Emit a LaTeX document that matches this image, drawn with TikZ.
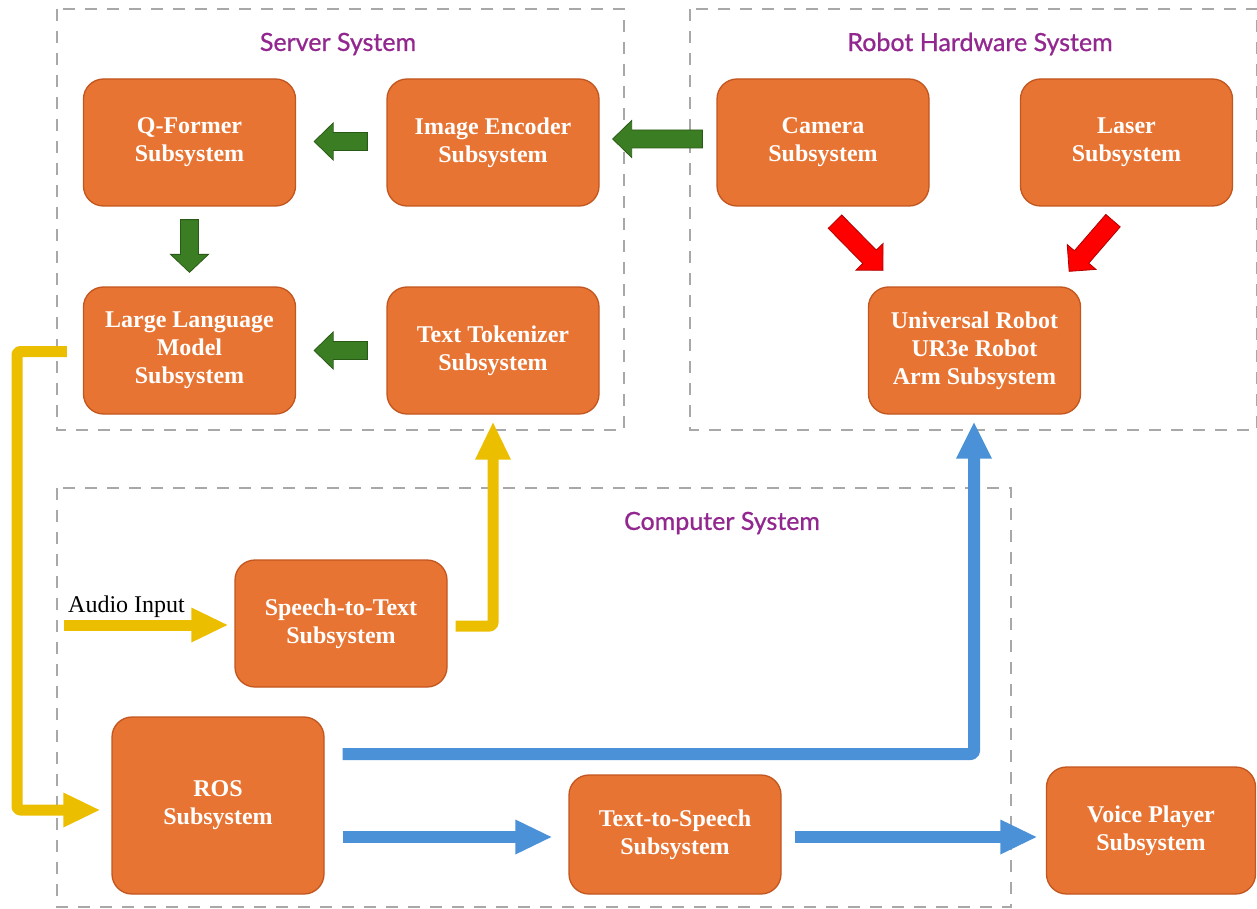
\documentclass[tikz,border=0pt]{standalone}
\usepackage{fontspec}
\setmainfont{Liberation Serif}
\newfontfamily\titlefont{Lato}[FakeBold=0.8]
\usetikzlibrary{calc}

\definecolor{boxfill}{HTML}{E87433}
\definecolor{boxedge}{HTML}{C2561F}
\definecolor{gfill}{HTML}{3B7D23}
\definecolor{gedge}{HTML}{2A5A18}
\definecolor{rfill}{HTML}{FF0000}
\definecolor{redge}{HTML}{B00000}
\definecolor{yflow}{HTML}{EBBF00}
\definecolor{bflow}{HTML}{4A91D8}
\definecolor{titlecol}{HTML}{92278F}
\definecolor{dashgray}{HTML}{A8A8A8}

% straight block arrow: style, start, tip, half shaft width, half head width, head length
\newcommand{\blockarrow}[6]{%
  \coordinate (ba-p) at ($(#3)!#6!(#2)$);
  \filldraw[#1] ($(#2)!#4!90:(#3)$) -- ($(ba-p)!#4!90:(#3)$) -- ($(ba-p)!#5!90:(#3)$)
    -- (#3) -- ($(ba-p)!#5!-90:(#3)$) -- ($(ba-p)!#4!-90:(#3)$) -- ($(#2)!#4!-90:(#3)$) -- cycle;
}
% triangular head only: style, point behind, tip, half head width, head length
\newcommand{\flowhead}[5]{%
  \coordinate (fh-p) at ($(#3)!#5!(#2)$);
  \fill[#1] ($(fh-p)!#4!90:(#3)$) -- (#3) -- ($(fh-p)!#4!-90:(#3)$) -- cycle;
}

\begin{document}
\begin{tikzpicture}[x=1pt,y=-1pt,
  sub/.style={rectangle, rounded corners=20pt, fill=boxfill, draw=boxedge, line width=1.3pt,
    text=white, font=\bfseries\fontsize{24}{28}\selectfont, align=center,
    minimum width=212pt, minimum height=127pt, inner sep=0pt},
  group/.style={draw=dashgray, line width=2.5pt, dash pattern=on 12pt off 10pt},
  grouptitle/.style={text=titlecol, font=\titlefont\fontsize{25}{30}\selectfont},
  garrow/.style={fill=gfill, draw=gedge, line width=0.8pt},
  rarrow/.style={fill=rfill, draw=redge, line width=0.8pt},
  yshaft/.style={draw=yflow, line width=11pt, line join=round, rounded corners=3pt},
  bshaft/.style={draw=bflow, line width=12pt, line join=round, rounded corners=3pt},
]
\useasboundingbox (0,0) rectangle (1257,909);

% system groups
\draw[group] (57,9) rectangle (624,430);
\draw[group] (690,9) rectangle (1257,430);
\draw[group] (57,488) rectangle (1011,907);
\node[grouptitle] (tserver) at (338,44) {Server System};
\node[grouptitle] (trobot) at (980,44) {Robot Hardware System};
\node[grouptitle] (tcomp) at (722,523) {Computer System};

% subsystems
\node[sub] (qf) at (189.5,142.5) {Q-Former\\Subsystem};
\node[sub] (ienc) at (493,142.5) {Image Encoder\\Subsystem};
\node[sub] (llm) at (189.5,350.5) {Large Language\\Model\\Subsystem};
\node[sub] (ttok) at (493,350.5) {Text Tokenizer\\Subsystem};
\node[sub] (cam) at (823,142.5) {Camera\\Subsystem};
\node[sub] (laser) at (1126.5,142.5) {Laser\\Subsystem};
\node[sub] (ur) at (974.5,350.5) {Universal Robot\\UR3e Robot\\Arm Subsystem};
\node[sub] (stt) at (341,623.5) {Speech-to-Text\\Subsystem};
\node[sub, minimum height=177pt] (ros) at (218,805.5) {ROS\\Subsystem};
\node[sub, minimum height=119pt] (tts) at (675,834.5) {Text-to-Speech\\Subsystem};
\node[sub, minimum width=209pt] (voice) at (1151,830.5) {Voice Player\\Subsystem};

% green data paths inside the server
\coordinate (g1s) at ($(cam.west)+(-14,-3.5)$);
\coordinate (g1t) at ($(ienc.east)+(13,-3.5)$);
\blockarrow{garrow}{g1s}{g1t}{9pt}{18.5pt}{19pt}
\coordinate (g2s) at ($(ienc.west)+(-19,-1)$);
\coordinate (g2t) at ($(qf.east)+(18,-1)$);
\blockarrow{garrow}{g2s}{g2t}{9pt}{18.5pt}{19pt}
\coordinate (g3s) at ($(qf.south)+(0,13)$);
\coordinate (g3t) at ($(llm.north)+(0,-14)$);
\blockarrow{garrow}{g3s}{g3t}{9pt}{19pt}{18pt}
\coordinate (g4s) at ($(ttok.west)+(-19,0)$);
\coordinate (g4t) at ($(llm.east)+(18,0)$);
\blockarrow{garrow}{g4s}{g4t}{9pt}{18.5pt}{19pt}

% red sensor paths
\coordinate (r1s) at ($(cam.south)+(12,15)$);
\coordinate (r1t) at ($(ur.north west)+(15,-16)$);
\blockarrow{rarrow}{r1s}{r1t}{9.5pt}{19pt}{19pt}
\coordinate (r2s) at ($(laser.south)+(-13.5,14)$);
\coordinate (r2t) at ($(ur.north east)+(-12,-15)$);
\blockarrow{rarrow}{r2s}{r2t}{9.5pt}{19pt}{19pt}

% yellow: language model output to ROS
\coordinate (y1s) at ($(llm.west)+(-16,1)$);
\coordinate (y1a) at (17,351.5);
\coordinate (y1b) at (17,810);
\coordinate (y1t) at ($(ros.west)+(-12,4.5)$);
\coordinate (y1h) at ($(y1t)+(-36,0)$);
\draw[yshaft] (y1s) -- (y1a) -- (y1b) -- ($(y1h)+(1,0)$);
\flowhead{yflow}{y1b}{y1t}{17.5pt}{36pt}

% yellow: audio input
\coordinate (y2s) at (64,625);
\coordinate (y2t) at ($(stt.west)+(-7,1.5)$);
\draw[yshaft] (y2s) -- ($(y2t)+(-35,0)$);
\flowhead{yflow}{y2s}{y2t}{17.5pt}{36pt}
\node[anchor=base west, font=\fontsize{24}{29}\selectfont, inner sep=0pt] (audio) at (68,612) {Audio Input};

% yellow: speech-to-text to tokenizer
\coordinate (y3s) at ($(stt.east)+(8,2.5)$);
\coordinate (y3a) at (493,626);
\coordinate (y3t) at ($(ttok.south)+(0,8)$);
\draw[yshaft] (y3s) -- (y3a) -- ($(y3t)+(0,36)$);
\flowhead{yflow}{y3a}{y3t}{18pt}{37pt}

% blue: ROS to robot arm
\coordinate (b1s) at ($(ros.east)+(18,-51.5)$);
\coordinate (b1a) at (974,754);
\coordinate (b1t) at ($(ur.south)+(-0.5,8)$);
\draw[bshaft] (b1s) -- (b1a) -- ($(b1t)+(0,35)$);
\flowhead{bflow}{b1a}{b1t}{18pt}{36pt}

% blue: ROS to text-to-speech, then to the voice player
\coordinate (b2s) at ($(ros.east)+(18,31.5)$);
\coordinate (b2t) at ($(tts.west)+(-17,2.5)$);
\draw[bshaft, rounded corners=0pt] (b2s) -- ($(b2t)+(-35,0)$);
\flowhead{bflow}{b2s}{b2t}{17.5pt}{36pt}
\coordinate (b3s) at ($(tts.east)+(13,2.5)$);
\coordinate (b3t) at ($(voice.west)+(-9.5,6.5)$);
\draw[bshaft, rounded corners=0pt] (b3s) -- ($(b3t)+(-35,0)$);
\flowhead{bflow}{b3s}{b3t}{17.5pt}{36pt}
\end{tikzpicture}
\end{document}
